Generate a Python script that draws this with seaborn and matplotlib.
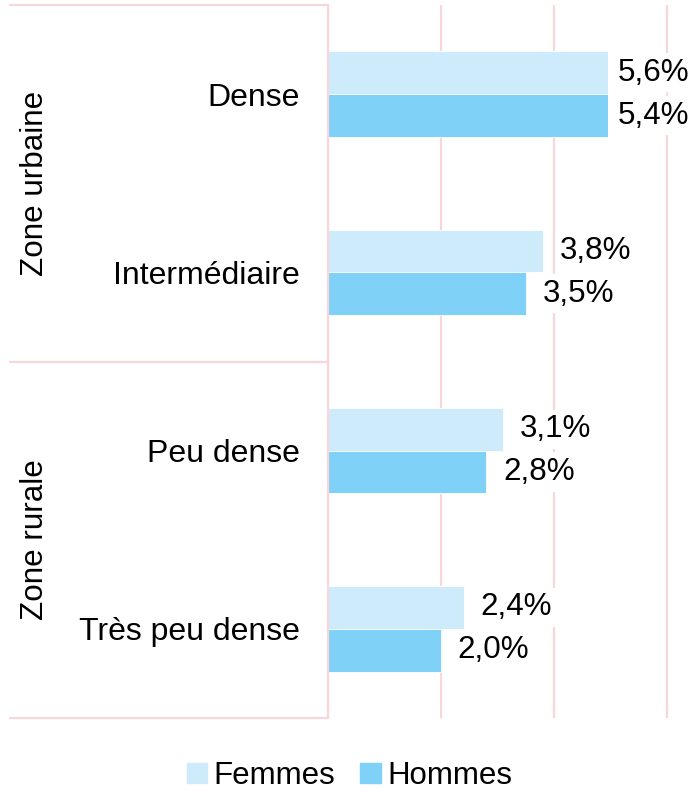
import numpy as np
import pandas as pd
import matplotlib
matplotlib.use('Agg')
import matplotlib.pyplot as plt
import matplotlib.transforms as mtransforms
from matplotlib.patches import Rectangle
from matplotlib.lines import Line2D
import seaborn as sns

# données
categories = ['Dense', 'Intermédiaire', 'Peu dense', 'Très peu dense']
zones = ['Zone urbaine', 'Zone rurale']
femmes = [5.6, 3.8, 3.1, 2.4]
hommes = [5.4, 3.5, 2.8, 2.0]
series = ['Femmes', 'Hommes']
couleurs = ['#CDEBFB', '#80D1F7']
rose = '#F9D6D9'
x_cap = 4.95  # les barres "Dense" sont tronquées dans l'original

df = pd.DataFrame({
    'categorie': categories * 2,
    'sexe': ['Femmes'] * 4 + ['Hommes'] * 4,
    'valeur': femmes + hommes,
})

sns.set_style('white')
plt.rcParams['font.family'] = ['Liberation Sans', 'DejaVu Sans']
plt.rcParams['text.color'] = 'black'
plt.rcParams['ytick.color'] = 'black'

fig = plt.figure(figsize=(6.92, 7.91), dpi=100)
ax = fig.add_axes([328 / 692, 1 - 718 / 791, 1 - 328 / 692, 713 / 791])

sns.barplot(data=df, y='categorie', x='valeur', hue='sexe', orient='h',
            palette=couleurs, saturation=1, width=0.48, ax=ax, legend=False)

ax.set_xlim(0, 6.44)
ax.set_ylim(3.5, -0.5)
ax.set_xticks([0, 2, 4, 6])
ax.grid(axis='x', color=rose, lw=1.6)
ax.set_axisbelow(True)
ax.tick_params(axis='x', bottom=False, labelbottom=False)
ax.tick_params(axis='y', length=0, pad=20, labelsize=23, labelcolor='black')
for s in ['top', 'right', 'bottom', 'left']:
    ax.spines[s].set_visible(False)
ax.set_xlabel('')
ax.set_ylabel('')

# troncature des barres et étiquettes
clip = Rectangle((0, -1), x_cap, 6, transform=ax.transData)
valeurs = [femmes, hommes]
for cont, vals in zip(ax.containers, valeurs):
    for bar, v in zip(cont, vals):
        bar.set_clip_path(clip)
        bar.set_edgecolor('white')
        bar.set_linewidth(0.6)
        xe = min(v, x_cap)
        yc = bar.get_y() + bar.get_height() / 2
        pad = 7 if v > x_cap else 12
        ax.annotate(f'{v:.1f}%'.replace('.', ','), (xe, yc),
                    xytext=(pad, 0), textcoords='offset points',
                    ha='left', va='center', fontsize=22.6, color='black',
                    bbox=dict(boxstyle='square,pad=0.15', fc='white', ec='none'))

# structure du tableau à gauche
trans = mtransforms.blended_transform_factory(fig.transFigure, ax.transData)
for yb in [-0.5, 1.5, 3.5]:
    fig.add_artist(Line2D([10 / 692, 328 / 692], [yb, yb], transform=trans,
                          color=rose, lw=1.6))
fig.add_artist(Line2D([328 / 692, 328 / 692], [-0.5, 3.5], transform=trans,
                      color=rose, lw=1.6))
for z, yc in zip(zones, [0.5, 2.5]):
    fig.text(35 / 692, yc, z, transform=trans, rotation=90,
             ha='center', va='center', fontsize=22.6, color='black')

# légende
handles = [Rectangle((0, 0), 1, 1, color=c) for c in couleurs]
fig.legend(handles, series, loc='center', bbox_to_anchor=(0.505, 1 - 776 / 791),
           ncol=2, frameon=False, fontsize=22.5, handlelength=0.65,
           handleheight=0.65, handletextpad=0.2, columnspacing=0.8,
           labelcolor='black')

fig.savefig('out.png', dpi=100)
